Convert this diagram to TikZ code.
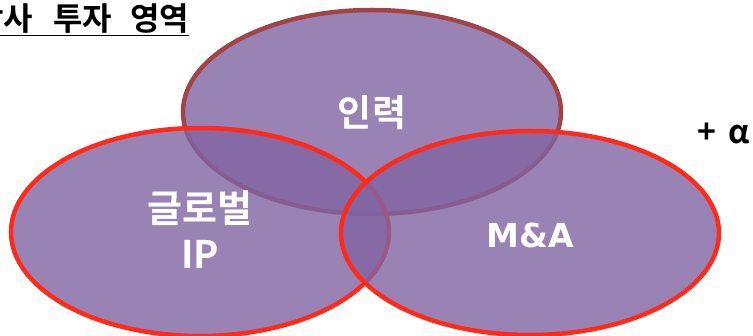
\documentclass[tikz,border=0pt]{standalone}
\usepackage{fontspec}
\usetikzlibrary{shapes.geometric}
\newfontfamily\kr{Noto Sans CJK KR}[BoldFont={* Bold}]
\newfontfamily\lat{DejaVu Sans}
\setmainfont{Noto Sans}
\definecolor{vfill}{HTML}{8064A2}
\definecolor{redline}{HTML}{FF2A1A}
\definecolor{darkred}{HTML}{A04448}
\tikzset{
  venn/.style={fill=vfill, fill opacity=0.8, line width=4.5pt, ellipse, inner sep=0pt, minimum width=378pt},
  lbl/.style={text=white, font=\kr\bfseries\fontsize{37}{40}\selectfont, align=center},
}
\begin{document}
\begin{tikzpicture}[x=1pt,y=-1pt]
\useasboundingbox (0,0) rectangle (753,336);
\node[venn, draw=darkred, minimum height=204pt] (top) at (372,112) {};
\node[venn, draw=redline, minimum height=208pt] (left) at (200,232) {};
\node[venn, draw=redline, minimum height=204pt] (right) at (530,233) {};
\node[lbl] (tl) at (372,113) {인력};
\node[lbl, font=\kr\bfseries\fontsize{38}{46}\selectfont] (ll) at (200,230) {글로벌\\IP};
\node[lbl, font=\lat\bfseries\fontsize{33}{36}\selectfont] (rl) at (530,235) {M\&A};
\node[font=\kr\bfseries\fontsize{32}{34}\selectfont, anchor=west] (alpha) at (694,133) {+\hspace{12pt}α};
\node[font=\kr\bfseries\fontsize{32}{34}\selectfont, anchor=base west, inner sep=0pt] (title) at (-26,31) {\underline{당사\hspace{13pt} 투자\hspace{11pt} 영역}};
\end{tikzpicture}
\end{document}
